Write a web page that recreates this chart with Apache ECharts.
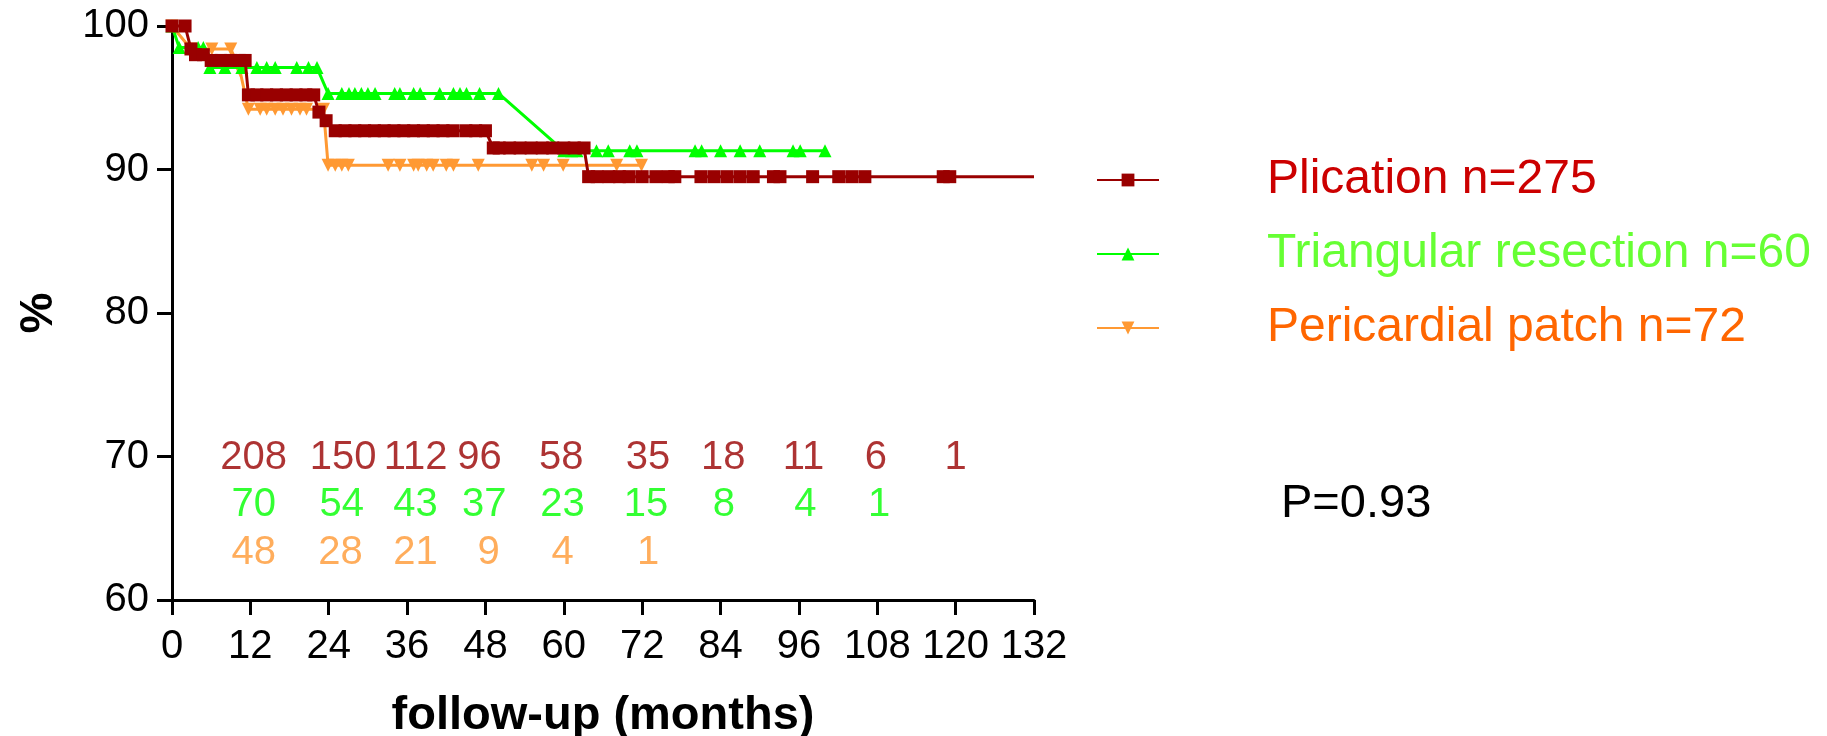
<!DOCTYPE html>
<html><head><meta charset="utf-8">
<script src="https://cdn.jsdelivr.net/npm/echarts@6/dist/echarts.min.js"></script>
<style>html,body{margin:0;padding:0;background:#fff}#chart{width:1827px;height:736px}</style>
</head><body><div id="chart"></div>
<script>
// ---------- data ----------
const seriesNames = ['Plication n=275', 'Triangular resection n=60', 'Pericardial patch n=72'];
const xTicks = [0, 12, 24, 36, 48, 60, 72, 84, 96, 108, 120, 132];
const yTicks = [60, 70, 80, 90, 100];

const plication = [[0,100],[2,100],[2.9,98.4],[3.6,98.0],[4.8,98.0],[6,97.6],[7.5,97.6],[9,97.6],[10.3,97.6],[11.2,97.6],
  [11.7,95.2],[13,95.2],[14.5,95.2],[16,95.2],[17.5,95.2],[19,95.2],[20.5,95.2],[21.7,95.2],[22.5,94.0],[23.6,93.4],
  [25,92.7],[26.5,92.7],[28,92.7],[29.5,92.7],[31,92.7],[32.5,92.7],[34,92.7],[35.5,92.7],[37,92.7],[38.5,92.7],[40,92.7],
  [41.5,92.7],[43,92.7],[45,92.7],[46.5,92.7],[48,92.7],[49.2,91.5],[50.1,91.5],[51.7,91.5],[53.3,91.5],[55,91.5],[56.7,91.5],
  [58.3,91.5],[60,91.5],[61.6,91.5],[63.1,91.5],[63.8,89.5],[65.1,89.5],[66.9,89.5],[68.5,89.5],[70,89.5],[72,89.5],[74.1,89.5],
  [76,89.5],[77,89.5],[81,89.5],[83,89.5],[85,89.5],[87,89.5],[89,89.5],[92.1,89.5],[93.1,89.5],[98.1,89.5],[102.1,89.5],
  [104.1,89.5],[106.1,89.5],[118.1,89.5],[119.1,89.5],[132,89.5]];
const triangular = [[0,100],[1.1,98.5],[4,98.5],[4.8,98.5],[5.8,97.1],[8.1,97.1],[10.7,97.1],[13,97.1],[14.5,97.1],[15.8,97.1],
  [19.1,97.1],[20.9,97.1],[22.2,97.1],[23.9,95.3],[26,95.3],[27.1,95.3],[28,95.3],[29,95.3],[30,95.3],[31.1,95.3],[34.1,95.3],
  [34.9,95.3],[37,95.3],[38,95.3],[41,95.3],[43.1,95.3],[44.1,95.3],[45.1,95.3],[47.1,95.3],[50,95.3],[60,91.3],[61.2,91.3],
  [62,91.3],[65,91.3],[66.8,91.3],[70.1,91.3],[71.2,91.3],[80.1,91.3],[81.1,91.3],[84,91.3],[87,91.3],[90,91.3],[95.1,91.3],
  [96.2,91.3],[100,91.3]];
const pericardial = [[0,100],[2.9,98.4],[6.1,98.4],[9,98.4],[10.4,96.9],[11.7,94.2],[13.5,94.2],[14.5,94.2],[15.8,94.2],[17,94.2],
  [18.3,94.2],[19.6,94.2],[20.6,94.2],[23.2,94.2],[23.9,90.3],[25,90.3],[26,90.3],[27,90.3],[33.1,90.3],[34.9,90.3],[37,90.3],
  [37.7,90.3],[39,90.3],[40,90.3],[42,90.3],[43.1,90.3],[46.9,90.3],[55.1,90.3],[56.9,90.3],[59.9,90.3],[68.1,90.3],[71.9,90.3]];

// numbers at risk
const atRiskPlicationMonths = [12.5, 26.2, 37.3, 47.1, 59.6, 72.9, 84.4, 96.7, 107.8, 120];
const atRiskPlication = [208, 150, 112, 96, 58, 35, 18, 11, 6, 1];
const atRiskTriangularMonths = [12.5, 26, 37.3, 47.8, 59.8, 72.6, 84.5, 97, 108.3];
const atRiskTriangular = [70, 54, 43, 37, 23, 15, 8, 4, 1];
const atRiskPericardialMonths = [12.5, 25.8, 37.3, 48.5, 59.8, 72.9];
const atRiskPericardial = [48, 28, 21, 9, 4, 1];
const pValueText = 'P=0.93';

// ---------- style ----------
const FONT = "'Liberation Sans', Arial, sans-serif";
const RED = '#990000', GREEN = '#00FF00', ORANGE = '#FF9933';
const ROW_LEVELS = [69.9, 66.6, 63.3];

const chart = echarts.init(document.getElementById('chart'), null, {renderer: 'canvas'});

function curve(name, data, color, symbol, rotate, z) {
  const d = data.map((p, i) => (name === seriesNames[0] && i === data.length - 1) ? {value: p, symbol: 'none'} : p);
  return {
    name, type: 'line', data: d, symbol, symbolSize: 13, symbolRotate: rotate, showAllSymbol: true,
    lineStyle: {color, width: 3}, itemStyle: {color}, clip: false, z, animation: false
  };
}
function atRisk(months, counts, level, color) {
  return {
    type: 'scatter', data: months.map((m, i) => [m, level, counts[i]]), symbolSize: 1,
    itemStyle: {color: 'rgba(0,0,0,0)'}, silent: true, animation: false, z: 5,
    label: {show: true, position: 'inside', formatter: p => String(p.data[2]), fontSize: 40, fontFamily: FONT, color}
  };
}

const option = {
  backgroundColor: '#fff',
  animation: false,
  grid: {left: 172, right: 793, top: 26, bottom: 136, containLabel: false, outerBoundsMode: 'none'},
  xAxis: {
    type: 'value', min: xTicks[0], max: xTicks[xTicks.length - 1], interval: xTicks[1] - xTicks[0],
    axisLine: {show: true, lineStyle: {color: '#000', width: 3}},
    axisTick: {show: true, length: 15, lineStyle: {color: '#000', width: 3}},
    axisLabel: {fontSize: 40, fontFamily: FONT, color: '#000', margin: 27},
    splitLine: {show: false},
    name: 'follow-up (months)', nameLocation: 'middle', nameGap: 93,
    nameTextStyle: {fontSize: 47, fontWeight: 'bold', fontFamily: FONT, color: '#000'}
  },
  yAxis: {
    type: 'value', min: yTicks[0], max: yTicks[yTicks.length - 1], interval: yTicks[1] - yTicks[0],
    axisLine: {show: true, lineStyle: {color: '#000', width: 3}},
    axisTick: {show: true, length: 15, lineStyle: {color: '#000', width: 3}},
    axisLabel: {fontSize: 40, fontFamily: FONT, color: '#000', margin: 23},
    splitLine: {show: false},
    name: '%', nameLocation: 'middle', nameGap: 110, nameRotate: 90,
    nameTextStyle: {fontSize: 46, fontWeight: 'bold', fontFamily: FONT, color: '#000'}
  },
  legend: {
    orient: 'vertical', left: 1091, top: 150, itemWidth: 62, itemHeight: 16, itemGap: 24, selectedMode: false,
    textStyle: {fontSize: 48, fontFamily: FONT, lineHeight: 50, padding: [0, 0, 0, 103]},
    data: [
      {name: seriesNames[0], textStyle: {color: '#CC0000'}},
      {name: seriesNames[1], textStyle: {color: '#66FF33'}},
      {name: seriesNames[2], textStyle: {color: '#FF6600'}}
    ]
  },
  graphic: [{
    type: 'text', left: 1281, top: 481, silent: true,
    style: {text: pValueText, fontSize: 47, fontFamily: FONT, fill: '#000'}
  }],
  series: [
    curve(seriesNames[2], pericardial, ORANGE, 'triangle', 180, 2),
    curve(seriesNames[1], triangular, GREEN, 'triangle', 0, 3),
    curve(seriesNames[0], plication, RED, 'rect', 0, 4),
    atRisk(atRiskPlicationMonths, atRiskPlication, ROW_LEVELS[0], RED),
    atRisk(atRiskTriangularMonths, atRiskTriangular, ROW_LEVELS[1], GREEN),
    atRisk(atRiskPericardialMonths, atRiskPericardial, ROW_LEVELS[2], ORANGE)
  ]
};
chart.setOption(option);
</script></body></html>
